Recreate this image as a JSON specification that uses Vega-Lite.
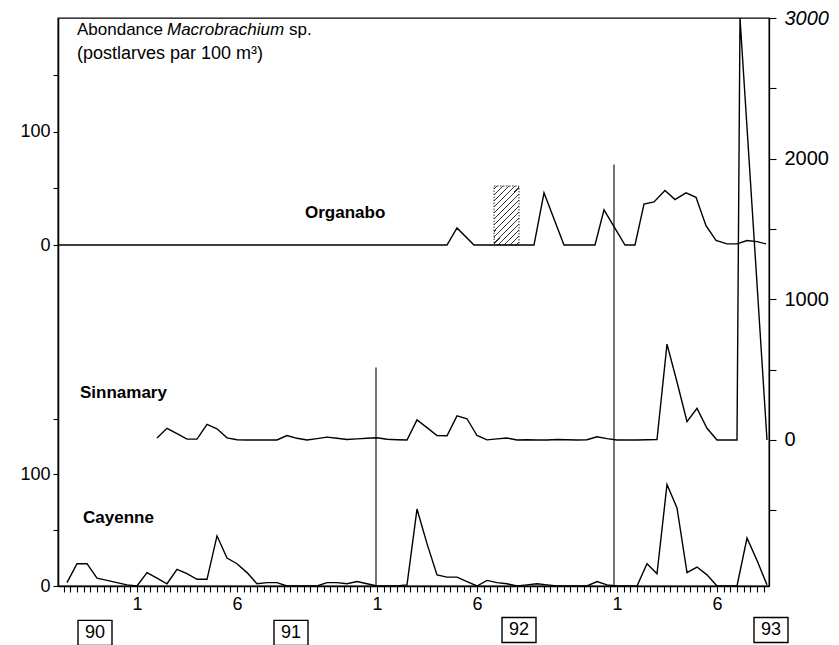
{
  "$schema": "https://vega.github.io/schema/vega-lite/v6.json",
  "width": 711,
  "height": 568,
  "autosize": {"type": "none"},
  "padding": {"left": 58, "top": 18, "right": 70, "bottom": 59},
  "background": "white",
  "config": {
    "view": {"stroke": "black", "strokeWidth": 1.3},
    "axis": {"grid": false, "domainColor": "black", "tickColor": "black", "labelColor": "black", "labelFont": "Liberation Sans", "domainWidth": 1.3, "tickWidth": 1.1, "title": null}
  },
  "datasets": {
    "organabo": [
      {"m": 8.1, "v": 0}, {"m": 9, "v": 0}, {"m": 10, "v": 0}, {"m": 11, "v": 0}, {"m": 12, "v": 0}, {"m": 13, "v": 0}, {"m": 14, "v": 0}, {"m": 15, "v": 0}, {"m": 16, "v": 0}, {"m": 17, "v": 0}, {"m": 18, "v": 0}, {"m": 19, "v": 0}, {"m": 20, "v": 0}, {"m": 21, "v": 0}, {"m": 22, "v": 0}, {"m": 23, "v": 0}, {"m": 24, "v": 0}, {"m": 25, "v": 0}, {"m": 26, "v": 0}, {"m": 27, "v": 0}, {"m": 27.5, "v": 0},
      {"m": 28.0, "v": 15}, {"m": 28.85, "v": 0}, {"m": 29.5, "v": 0}, {"m": 30.5, "v": 0}, {"m": 31.4, "v": 0}, {"m": 31.85, "v": 0}, {"m": 32.35, "v": 46}, {"m": 33.35, "v": 0}, {"m": 34.0, "v": 0}, {"m": 34.9, "v": 0}, {"m": 35.35, "v": 31}, {"m": 36.4, "v": 0}, {"m": 36.9, "v": 0}, {"m": 37.35, "v": 36}, {"m": 37.85, "v": 38}, {"m": 38.4, "v": 48}, {"m": 38.9, "v": 40}, {"m": 39.45, "v": 46}, {"m": 39.95, "v": 42}, {"m": 40.45, "v": 17}, {"m": 40.95, "v": 4}, {"m": 41.5, "v": 1}, {"m": 42.0, "v": 1}, {"m": 42.5, "v": 4}, {"m": 43.0, "v": 3}, {"m": 43.45, "v": 1}
    ],
    "sinnamary": [
      {"m": 13.0, "v": 15}, {"m": 13.5, "v": 83}, {"m": 14.0, "v": 45}, {"m": 14.5, "v": 6}, {"m": 15.0, "v": 6}, {"m": 15.5, "v": 111}, {"m": 16.0, "v": 80}, {"m": 16.5, "v": 15}, {"m": 17.0, "v": 2}, {"m": 17.5, "v": 0}, {"m": 18.0, "v": 0}, {"m": 18.5, "v": 0}, {"m": 19.0, "v": 0}, {"m": 19.5, "v": 32}, {"m": 20.0, "v": 12}, {"m": 20.5, "v": 0}, {"m": 21.0, "v": 10}, {"m": 21.5, "v": 20}, {"m": 22.0, "v": 12}, {"m": 22.5, "v": 3}, {"m": 23.0, "v": 8}, {"m": 23.5, "v": 12}, {"m": 24.0, "v": 16}, {"m": 24.5, "v": 5}, {"m": 25.0, "v": 2}, {"m": 25.5, "v": 0}, {"m": 26.0, "v": 143}, {"m": 26.5, "v": 88}, {"m": 27.0, "v": 31}, {"m": 27.5, "v": 30}, {"m": 28.0, "v": 171}, {"m": 28.5, "v": 151}, {"m": 29.0, "v": 32}, {"m": 29.5, "v": 1}, {"m": 30.0, "v": 8}, {"m": 30.5, "v": 14}, {"m": 31.0, "v": 0}, {"m": 31.5, "v": 2}, {"m": 32.0, "v": 0}, {"m": 32.5, "v": 0}, {"m": 33.0, "v": 3}, {"m": 33.5, "v": 2}, {"m": 34.0, "v": 0}, {"m": 34.5, "v": 2}, {"m": 35.0, "v": 23}, {"m": 35.5, "v": 10}, {"m": 36.0, "v": 0}, {"m": 36.5, "v": 0}, {"m": 37.0, "v": 0}, {"m": 37.5, "v": 2}, {"m": 38.0, "v": 3}, {"m": 38.5, "v": 682}, {"m": 39.0, "v": 412}, {"m": 39.5, "v": 131}, {"m": 40.0, "v": 225}, {"m": 40.5, "v": 83}, {"m": 41.0, "v": 0}, {"m": 41.5, "v": 0}, {"m": 42.0, "v": 0}, {"m": 42.15, "v": 3000}, {"m": 43.5, "v": 0}
    ],
    "cayenne": [
      {"m": 8.5, "v": 3}, {"m": 9.0, "v": 20}, {"m": 9.5, "v": 20}, {"m": 10.0, "v": 7}, {"m": 10.5, "v": 5}, {"m": 11.0, "v": 3}, {"m": 11.5, "v": 1}, {"m": 12.0, "v": 0}, {"m": 12.5, "v": 12}, {"m": 13.0, "v": 7}, {"m": 13.5, "v": 2}, {"m": 14.0, "v": 15}, {"m": 14.5, "v": 11}, {"m": 15.0, "v": 6}, {"m": 15.5, "v": 6}, {"m": 16.0, "v": 45}, {"m": 16.5, "v": 25}, {"m": 17.0, "v": 20}, {"m": 17.5, "v": 12}, {"m": 18.0, "v": 2}, {"m": 18.5, "v": 3}, {"m": 19.0, "v": 3}, {"m": 19.5, "v": 0}, {"m": 20.0, "v": 0}, {"m": 20.5, "v": 0}, {"m": 21.0, "v": 0}, {"m": 21.5, "v": 3}, {"m": 22.0, "v": 3}, {"m": 22.5, "v": 2}, {"m": 23.0, "v": 4}, {"m": 23.5, "v": 2}, {"m": 24.0, "v": 0}, {"m": 24.5, "v": 0}, {"m": 25.0, "v": 0}, {"m": 25.5, "v": 1}, {"m": 26.0, "v": 69}, {"m": 26.5, "v": 38}, {"m": 27.0, "v": 10}, {"m": 27.5, "v": 8}, {"m": 28.0, "v": 8}, {"m": 28.5, "v": 4}, {"m": 29.0, "v": 0}, {"m": 29.5, "v": 5}, {"m": 30.0, "v": 3}, {"m": 30.5, "v": 2}, {"m": 31.0, "v": 0}, {"m": 31.5, "v": 1}, {"m": 32.0, "v": 2}, {"m": 32.5, "v": 1}, {"m": 33.0, "v": 0}, {"m": 33.5, "v": 0}, {"m": 34.0, "v": 0}, {"m": 34.5, "v": 0}, {"m": 35.0, "v": 4}, {"m": 35.5, "v": 1}, {"m": 36.0, "v": 0}, {"m": 36.5, "v": 0}, {"m": 37.0, "v": 0}, {"m": 37.5, "v": 20}, {"m": 38.0, "v": 11}, {"m": 38.5, "v": 91}, {"m": 39.0, "v": 70}, {"m": 39.5, "v": 12}, {"m": 40.0, "v": 17}, {"m": 40.5, "v": 10}, {"m": 41.0, "v": 0}, {"m": 41.5, "v": 0}, {"m": 42.0, "v": 0}, {"m": 42.5, "v": 43}, {"m": 43.0, "v": 23}, {"m": 43.5, "v": 1}
    ],
    "rules": [{"m": 23.95, "top": 196}, {"m": 35.85, "top": 378}],
    "hatch": [{"m": 29.85, "m2": 31.1, "top": 52}],
    "plain": [
      {"t": "Abondance", "m": 9.0, "v": 494.6},
      {"t": "sp.", "m": 19.6, "v": 494.6}
    ],
    "plain2": [
      {"t": "(postlarves par 100 m³)", "m": 9.0, "v": 472.6}
    ],
    "italic": [{"t": "Macrobrachium", "m": 13.5, "v": 494.6}],
    "names": [
      {"t": "Organabo", "m": 20.4, "v": 330},
      {"t": "Sinnamary", "m": 9.15, "v": 168.6},
      {"t": "Cayenne", "m": 9.3, "v": 56.5}
    ],
    "years": [
      {"t": "90", "m": 9.9, "v": -42},
      {"t": "91", "m": 19.7, "v": -42},
      {"t": "92", "m": 31.1, "v": -39.5},
      {"t": "93", "m": 43.7, "v": -39.5}
    ]
  },
  "encoding": {
    "x": {
      "field": "m", "type": "quantitative",
      "scale": {"domain": [8.05, 43.6], "nice": false, "zero": false},
      "axis": {
        "orient": "bottom", "title": null, "tickSize": 6, "labelFontSize": 18, "labelPadding": 3, "labelOverlap": false, "labelBound": false, "labelFlush": false,
        "values": [8.333,8.667,9,9.333,9.667,10,10.333,10.667,11,11.333,11.667,12,12.333,12.667,13,13.333,13.667,14,14.333,14.667,15,15.333,15.667,16,16.333,16.667,17,17.333,17.667,18,18.333,18.667,19,19.333,19.667,20,20.333,20.667,21,21.333,21.667,22,22.333,22.667,23,23.333,23.667,24,24.333,24.667,25,25.333,25.667,26,26.333,26.667,27,27.333,27.667,28,28.333,28.667,29,29.333,29.667,30,30.333,30.667,31,31.333,31.667,32,32.333,32.667,33,33.333,33.667,34,34.333,34.667,35,35.333,35.667,36,36.333,36.667,37,37.333,37.667,38,38.333,38.667,39,39.333,39.667,40,40.333,40.667,41,41.333,41.667,42,42.333,42.667,43,43.333],
        "labelExpr": "(datum.value === 12 || datum.value === 24 || datum.value === 36) ? '1' : ((datum.value === 17 || datum.value === 29 || datum.value === 41) ? '6' : '')"
      }
    }
  },
  "layer": [
    {
      "data": {"name": "hatch"},
      "mark": {
        "type": "rect", "stroke": "#333", "strokeWidth": 1, "strokeDash": [1.5, 1.5],
        "fill": {"gradient": "linear", "x1": 0, "y1": 0, "x2": 0.52, "y2": 1.207, "stops": [
          {"offset": 0, "color": "white"},
          {"offset": 0.027, "color": "white"}, {"offset": 0.027, "color": "#333"}, {"offset": 0.045, "color": "#333"}, {"offset": 0.045, "color": "white"},
          {"offset": 0.098, "color": "white"}, {"offset": 0.098, "color": "#333"}, {"offset": 0.116, "color": "#333"}, {"offset": 0.116, "color": "white"},
          {"offset": 0.17, "color": "white"}, {"offset": 0.17, "color": "#333"}, {"offset": 0.188, "color": "#333"}, {"offset": 0.188, "color": "white"},
          {"offset": 0.241, "color": "white"}, {"offset": 0.241, "color": "#333"}, {"offset": 0.259, "color": "#333"}, {"offset": 0.259, "color": "white"},
          {"offset": 0.312, "color": "white"}, {"offset": 0.312, "color": "#333"}, {"offset": 0.33, "color": "#333"}, {"offset": 0.33, "color": "white"},
          {"offset": 0.384, "color": "white"}, {"offset": 0.384, "color": "#333"}, {"offset": 0.402, "color": "#333"}, {"offset": 0.402, "color": "white"},
          {"offset": 0.455, "color": "white"}, {"offset": 0.455, "color": "#333"}, {"offset": 0.473, "color": "#333"}, {"offset": 0.473, "color": "white"},
          {"offset": 0.527, "color": "white"}, {"offset": 0.527, "color": "#333"}, {"offset": 0.545, "color": "#333"}, {"offset": 0.545, "color": "white"},
          {"offset": 0.598, "color": "white"}, {"offset": 0.598, "color": "#333"}, {"offset": 0.616, "color": "#333"}, {"offset": 0.616, "color": "white"},
          {"offset": 0.67, "color": "white"}, {"offset": 0.67, "color": "#333"}, {"offset": 0.688, "color": "#333"}, {"offset": 0.688, "color": "white"},
          {"offset": 0.741, "color": "white"}, {"offset": 0.741, "color": "#333"}, {"offset": 0.759, "color": "#333"}, {"offset": 0.759, "color": "white"},
          {"offset": 0.812, "color": "white"}, {"offset": 0.812, "color": "#333"}, {"offset": 0.83, "color": "#333"}, {"offset": 0.83, "color": "white"},
          {"offset": 0.884, "color": "white"}, {"offset": 0.884, "color": "#333"}, {"offset": 0.902, "color": "#333"}, {"offset": 0.902, "color": "white"},
          {"offset": 0.955, "color": "white"}, {"offset": 0.955, "color": "#333"}, {"offset": 0.973, "color": "#333"}, {"offset": 0.973, "color": "white"},
          {"offset": 1, "color": "white"}
        ]}
      },
      "encoding": {
        "x2": {"field": "m2"},
        "y": {"field": "top", "type": "quantitative", "scale": {"domain": [-300.4, 200], "nice": false, "zero": false}, "axis": null},
        "y2": {"datum": 0}
      }
    },
    {
      "data": {"name": "organabo"},
      "mark": {"type": "line", "color": "black", "strokeWidth": 1.4},
      "encoding": {
        "y": {"field": "v", "type": "quantitative", "scale": {"domain": [-300.4, 200], "nice": false, "zero": false},
          "axis": {"orient": "left", "values": [0, 50, 100, 150], "labelExpr": "(datum.value === 0 || datum.value === 100) ? datum.label : ''", "tickSize": 5, "labelFontSize": 18, "labelPadding": 3, "title": null}}
      }
    },
    {
      "data": {"name": "sinnamary"},
      "mark": {"type": "line", "color": "black", "strokeWidth": 1.4},
      "encoding": {
        "y": {"field": "v", "type": "quantitative", "scale": {"domain": [-1038, 3000], "nice": false, "zero": false},
          "axis": {"orient": "right", "values": [-500, 0, 500, 1000, 1500, 2000, 2500, 3000], "format": "d", "labelExpr": "(datum.value % 1000 === 0) ? datum.label : ''", "tickSize": 7, "labelFontSize": 20, "labelPadding": 8, "labelFontStyle": {"condition": {"test": "datum.value === 3000", "value": "italic"}, "value": "normal"}, "title": null}}
      }
    },
    {
      "data": {"name": "cayenne"},
      "mark": {"type": "line", "color": "black", "strokeWidth": 1.4},
      "encoding": {
        "y": {"field": "v", "type": "quantitative", "scale": {"domain": [0, 509.4], "nice": false, "zero": false},
          "axis": {"orient": "left", "values": [0, 50, 100, 150], "labelExpr": "(datum.value === 0 || datum.value === 100) ? datum.label : ''", "tickSize": 5, "labelFontSize": 18, "labelPadding": 3, "title": null}}
      }
    },
    {
      "data": {"name": "rules"},
      "mark": {"type": "rule", "color": "black", "strokeWidth": 1.1},
      "encoding": {
        "y": {"field": "top", "type": "quantitative", "scale": {"domain": [0, 509.4], "nice": false, "zero": false}, "axis": null},
        "y2": {"datum": 0}
      }
    },
    {
      "data": {"name": "plain"},
      "mark": {"type": "text", "align": "left", "baseline": "alphabetic", "font": "Liberation Sans", "fontSize": 17, "color": "black"},
      "encoding": {
        "y": {"field": "v", "type": "quantitative", "scale": {"domain": [0, 509.4], "nice": false, "zero": false}, "axis": null},
        "text": {"field": "t"}
      }
    },
    {
      "data": {"name": "plain2"},
      "mark": {"type": "text", "align": "left", "baseline": "alphabetic", "font": "Liberation Sans", "fontSize": 18, "color": "black"},
      "encoding": {
        "y": {"field": "v", "type": "quantitative", "scale": {"domain": [0, 509.4], "nice": false, "zero": false}, "axis": null},
        "text": {"field": "t"}
      }
    },
    {
      "data": {"name": "italic"},
      "mark": {"type": "text", "align": "left", "baseline": "alphabetic", "font": "Liberation Sans", "fontSize": 17, "fontStyle": "italic", "color": "black"},
      "encoding": {
        "y": {"field": "v", "type": "quantitative", "scale": {"domain": [0, 509.4], "nice": false, "zero": false}, "axis": null},
        "text": {"field": "t"}
      }
    },
    {
      "data": {"name": "names"},
      "mark": {"type": "text", "align": "left", "baseline": "alphabetic", "font": "Liberation Sans", "fontSize": 17, "fontWeight": "bold", "color": "black"},
      "encoding": {
        "y": {"field": "v", "type": "quantitative", "scale": {"domain": [0, 509.4], "nice": false, "zero": false}, "axis": null},
        "text": {"field": "t"}
      }
    },
    {
      "data": {"name": "years"},
      "mark": {"type": "point", "shape": "M-1.36,-1H1.36V1H-1.36Z", "size": 625, "filled": false, "stroke": "black", "strokeWidth": 1.4, "opacity": 1, "clip": false},
      "encoding": {
        "y": {"field": "v", "type": "quantitative", "scale": {"domain": [0, 509.4], "nice": false, "zero": false}, "axis": null}
      }
    },
    {
      "data": {"name": "years"},
      "mark": {"type": "text", "align": "center", "baseline": "middle", "font": "Liberation Sans", "fontSize": 18, "color": "black", "clip": false},
      "encoding": {
        "y": {"field": "v", "type": "quantitative", "scale": {"domain": [0, 509.4], "nice": false, "zero": false}, "axis": null},
        "text": {"field": "t"}
      }
    }
  ],
  "resolve": {"scale": {"y": "independent"}, "axis": {"y": "independent"}}
}
